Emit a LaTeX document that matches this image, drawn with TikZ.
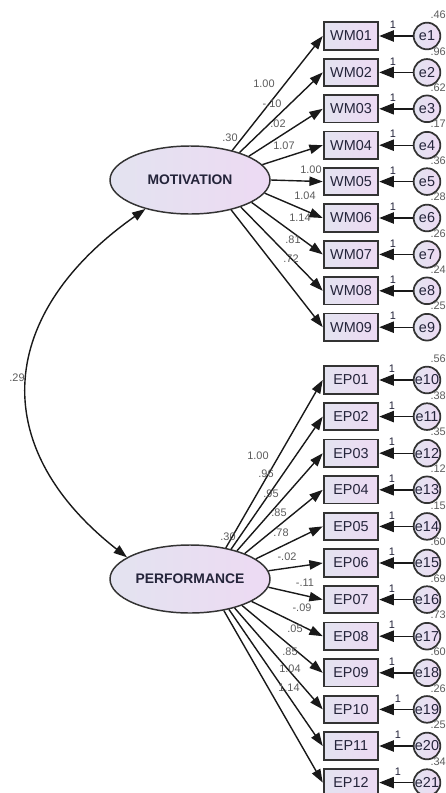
\documentclass[tikz,border=0pt]{standalone}
\usepackage{fontspec}
\setmainfont{Liberation Sans}
\usetikzlibrary{shapes.geometric,arrows.meta}
\definecolor{fillL}{HTML}{E3E3F0}
\definecolor{fillR}{HTML}{EDDAF3}
\definecolor{ink}{HTML}{24243A}
\definecolor{estgray}{HTML}{5C5C5C}
\definecolor{edge}{HTML}{333333}
\begin{document}
\begin{tikzpicture}[x=0.75pt,y=-0.75pt,
  obs/.style={draw=edge, line width=1.4pt, minimum width=41pt, minimum height=20.5pt,
    inner sep=0pt, left color=fillL, right color=fillR, text=ink,
    font=\fontsize{10.8}{12}\selectfont},
  err/.style={circle, draw=edge, line width=1.3pt, minimum size=20pt, inner sep=0pt,
    left color=fillL, right color=fillR, text=ink, font=\fontsize{10.8}{12}\selectfont},
  lat/.style={ellipse, draw=edge, line width=1.1pt, minimum width=120pt, minimum height=51pt,
    inner sep=0pt, left color=fillL, right color=fillR, text=ink,
    font=\bfseries\fontsize{10.4}{12}\selectfont},
  load/.style={draw=black!90, line width=1.05pt, -{Triangle[length=10pt,width=7pt]}},
  errarrow/.style={draw=black!90, line width=1.05pt, -{Triangle[length=11pt,width=8.5pt]}},
  cov/.style={draw=black!90, line width=1.05pt,
    {Triangle[length=10pt,width=7pt]}-{Triangle[length=10pt,width=7pt]}},
  estlab/.style={font=\fontsize{8.2}{9}\selectfont, text=estgray, inner sep=0pt},
  onelab/.style={font=\fontsize{8.2}{9}\selectfont, text=ink, inner sep=0pt},
]
\fill[white] (0,0) rectangle (446,793);
\useasboundingbox (0,0) rectangle (446,793);

% latent factors
\node[lat] (MOT) at (190,180) {\makebox[0pt]{MOTIVATION}};
\node[lat] (PERF) at (190,579) {\makebox[0pt]{PERFORMANCE}};

% motivation indicators with their error terms
\foreach \i/\v in {1/.46,2/.96,3/.62,4/.17,5/.36,6/.28,7/.26,8/.24,9/.25} {
  \pgfmathsetmacro\yy{36+(\i-1)*36.4}
  \node[obs] (w\i) at (351,\yy) {WM0\i};
  \node[err] (e\i) at (427,\yy) {e\i};
  \draw[errarrow] (e\i) -- (w\i);
  \node[onelab] (one\i) at (393,{\yy-11}) {1};
  \node[estlab, anchor=east] (var\i) at (446,{\yy-21}) {\v};
}

% performance indicators with their error terms
\foreach \j/\t/\e/\v/\ox in {1/EP01/e10/.56/392,2/EP02/e11/.38/392,3/EP03/e12/.35/392,
    4/EP04/e13/.12/392,5/EP05/e14/.15/392,6/EP06/e15/.60/392,7/EP07/e16/.69/392,
    8/EP08/e17/.73/392,9/EP09/e18/.60/392,10/EP10/e19/.26/398,11/EP11/e20/.25/398,
    12/EP12/e21/.34/398} {
  \pgfmathsetmacro\yy{380+(\j-1)*36.6}
  \node[obs] (p\j) at (351,\yy) {\t};
  \node[err] (\e) at (427,\yy) {\e};
  \draw[errarrow] (\e) -- (p\j);
  \node[onelab] (onep\j) at (\ox,{\yy-11}) {1};
  \node[estlab, anchor=east] (varp\j) at (446,{\yy-21}) {\v};
}

% factor loadings
\foreach \i/\a in {1/35,2/29,3/22,4/12,5/0,6/350,7/340,8/332,9/324}
  \draw[load] (MOT.\a) -- (w\i.west);
\foreach \j/\a in {1/41,2/36,3/31,4/25,5/17,6/6,7/354,8/340,9/333,10/327,11/322,12/317}
  \draw[load] (PERF.\a) -- (p\j.west);

% loading estimates
\foreach \x/\y/\s [count=\k] in {264/84/1.00,272/104/-.10,278/124/.02,284/146/1.07,
    311/170/1.00,305/196/1.04,300/218/1.14,293/240/.81,291/259/.72}
  \node[estlab] (lw\k) at (\x,\y) {\s};
\foreach \x/\y/\s [count=\k] in {258/456/1.00,266/474/.96,271/494/.95,279/513/.85,
    281/533/.78,287/557/-.02,305/583/-.11,302/608/-.09,295/629/.05,290/652/.85,
    290/669/1.04,289/688/1.14}
  \node[estlab] (lp\k) at (\x,\y) {\s};

% factor variances
\node[estlab] (vm) at (230,138) {.30};
\node[estlab] (vp) at (228,537) {.30};

% factor covariance
\coordinate (c1) at (-1,312);
\coordinate (c2) at (-16,445);
\draw[cov] (MOT.213) .. controls (c1) and (c2) .. (PERF.161);
\node[estlab] (covlab) at (17,378) {.29};
\end{tikzpicture}
\end{document}
